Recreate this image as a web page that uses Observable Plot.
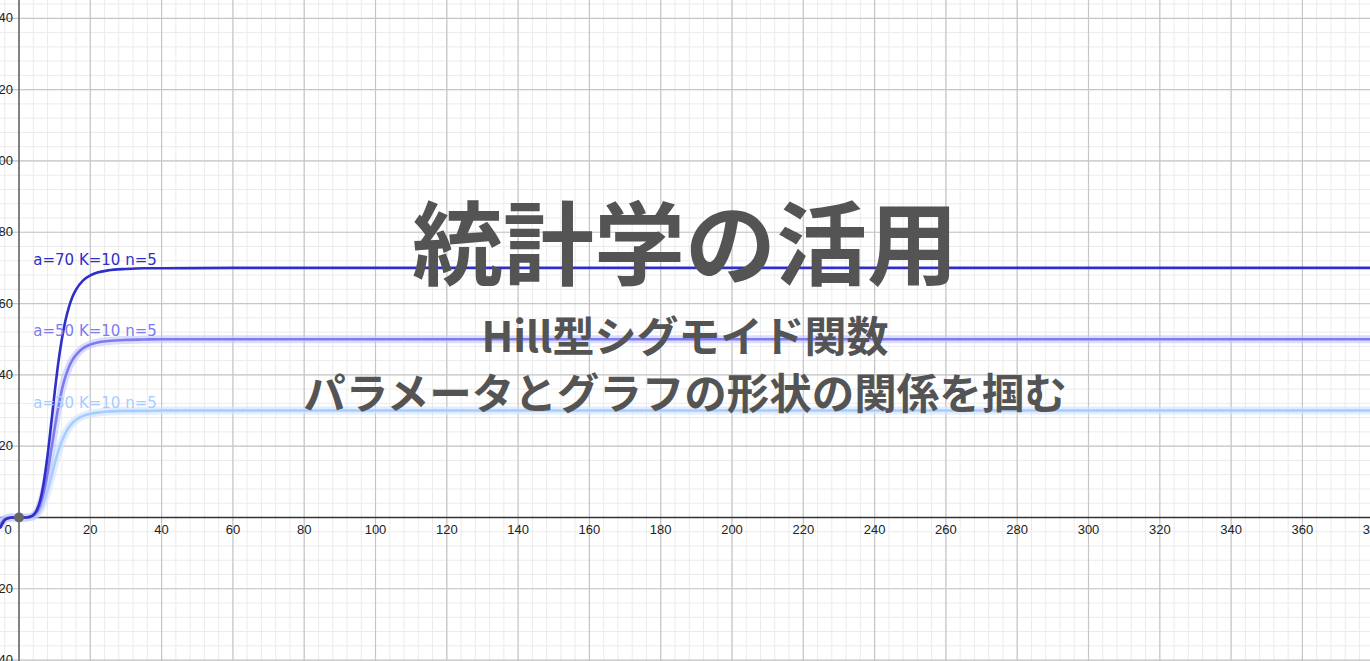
<!DOCTYPE html>
<html>
<head>
<meta charset="utf-8">
<script src="https://cdn.jsdelivr.net/npm/d3@7"></script>
<script src="https://cdn.jsdelivr.net/npm/@observablehq/plot@0.6"></script>
<style>
  html, body { margin: 0; padding: 0; background: #fff; overflow: hidden; }
  #wrap { position: relative; width: 1370px; height: 661px; }
  .ttl { position: absolute; left: 0; width: 1370px; text-align: center;
         font-family: "Noto Sans CJK JP", sans-serif; font-weight: 700; color: #545454;
         line-height: 1; white-space: nowrap; }
</style>
</head>
<body>
<div id="wrap"></div>
<script>
// ---- data ----
const xTickLabels = [20, 40, 60, 80, 100, 120, 140, 160, 180, 200, 220, 240, 260, 280, 300, 320, 340, 360, 380];
const yTickLabels = [-40, -20, 20, 40, 60, 80, 100, 120, 140];
const curveX   = [-5.2, -4, -3, -2, -1, 0, 1, 2, 3, 4, 5, 6, 7, 8, 9, 10, 11, 12, 13, 14, 15, 16, 18, 20, 22, 25, 30, 35, 40, 60, 380];
const seriesA70 = [-2.8, -0.7, -0.2, 0, 0, 0, 0, 0, 0.2, 0.7, 2.1, 5.0, 10.1, 17.3, 26.0, 35, 43.2, 49.9, 55.1, 59.0, 61.9, 63.9, 66.5, 67.9, 68.7, 69.3, 69.7, 69.9, 69.9, 70, 70];
const seriesA50 = [-2.0, -0.5, -0.1, 0, 0, 0, 0, 0, 0.1, 0.5, 1.5, 3.6, 7.2, 12.3, 18.6, 25, 30.8, 35.7, 39.4, 42.2, 44.2, 45.6, 47.5, 48.5, 49.1, 49.5, 49.8, 49.9, 50, 50, 50];
const seriesA30 = [-1.2, -0.3, -0.1, 0, 0, 0, 0, 0, 0.1, 0.3, 0.9, 2.2, 4.3, 7.4, 11.1, 15, 18.5, 21.4, 23.6, 25.3, 26.5, 27.4, 28.5, 29.1, 29.4, 29.7, 29.9, 29.9, 30, 30, 30];
const seriesNames = ["a=30 K=10 n=5", "a=50 K=10 n=5", "a=70 K=10 n=5"];
const seriesA = [30, 50, 70];
const origin = [[0, 0]];

// ---- build ----
const seriesValues = [seriesA30, seriesA50, seriesA70];
const colors = ["#a6cdff", "#7c7cf0", "#2e2ec8"];
const glow = ["#cfe3ff", "#c4c4ff", null];
const lines = seriesValues.map(vals => curveX.map((x, i) => ({x, y: vals[i]})));
const labelRows = seriesNames.map((name, i) => ({name, a: seriesA[i], color: colors[i]}));

const W = 1370, H = 661;
const marks = [
  Plot.ruleX(d3.range(-4, 381, 4), {stroke: "#ebebeb", strokeWidth: 1}),
  Plot.ruleY(d3.range(-40, 146, 4), {stroke: "#ebebeb", strokeWidth: 1}),
  Plot.ruleX(xTickLabels, {stroke: "#c6c6c6", strokeWidth: 1.2}),
  Plot.ruleY(yTickLabels, {stroke: "#c6c6c6", strokeWidth: 1.2}),
  Plot.ruleY([0], {stroke: "#333", strokeWidth: 1.6}),
  Plot.ruleX([0], {stroke: "#666", strokeWidth: 1.6}),
];
lines.forEach((ln, i) => {
  if (glow[i]) marks.push(Plot.line(ln, {x: "x", y: "y", stroke: glow[i], strokeWidth: 8, strokeOpacity: 0.6, curve: "monotone-x"}));
  marks.push(Plot.line(ln, {x: "x", y: "y", stroke: colors[i], strokeWidth: 2.6, curve: "monotone-x"}));
});
marks.push(
  Plot.dot(origin, {x: d => d[0], y: d => d[1], r: 5, fill: "#666", stroke: "none"}),
  Plot.text(labelRows, {x: 4, y: "a", text: "name", fill: "color", textAnchor: "start", lineAnchor: "bottom", dy: -3,
    fontSize: 15, fontFamily: "DejaVu Sans, sans-serif"}),
  Plot.text(xTickLabels, {x: d => d, y: 0, text: d => String(d), dy: 12, fontSize: 13, fill: "#222",
    fontFamily: "Liberation Sans, Arial, sans-serif"}),
  Plot.text(yTickLabels, {x: 0, y: d => d, text: d => String(d), dx: -6, textAnchor: "end", fontSize: 13, fill: "#222",
    fontFamily: "Liberation Sans, Arial, sans-serif"}),
  Plot.text(origin, {x: d => d[0], y: d => d[1], text: d => "0", dx: -11, dy: 12, fontSize: 13, fill: "#222",
    fontFamily: "Liberation Sans, Arial, sans-serif"})
);

const chart = Plot.plot({
  width: W, height: H,
  marginTop: 0, marginRight: 0, marginBottom: 0, marginLeft: 0,
  x: {domain: [-5.19, 379.1], axis: null},
  y: {domain: [-40.4, 145.0], axis: null},
  style: {background: "#fff", overflow: "hidden"},
  marks
});
const wrap = document.getElementById("wrap");
wrap.appendChild(chart);

const titles = [
  {text: "統計学の活用", size: 91, cy: 238},
  {text: "Hill型シグモイド関数", size: 42, cy: 334},
  {text: "パラメータとグラフの形状の関係を掴む", size: 42.5, cy: 391}
];
titles.forEach(t => {
  const d = document.createElement("div");
  d.className = "ttl";
  d.textContent = t.text;
  d.style.fontSize = t.size + "px";
  d.style.top = (t.cy - t.size / 2) + "px";
  wrap.appendChild(d);
});
</script>
</body>
</html>
